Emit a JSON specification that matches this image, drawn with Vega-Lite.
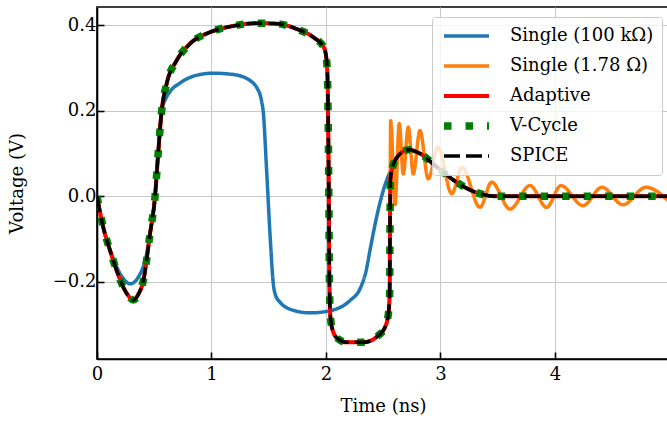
{
  "$schema": "https://vega.github.io/schema/vega-lite/v6.json",
  "width": 572,
  "height": 352,
  "autosize": {"type": "none"},
  "padding": {"left": 97, "top": 7, "right": 0, "bottom": 62},
  "background": "white",
  "config": {
    "view": {"stroke": "black", "strokeWidth": 1.6},
    "axis": {
      "labelFont": "DejaVu Serif", "labelFontSize": 18, "labelColor": "black", "labelFlush": false,
      "titleFont": "DejaVu Serif", "titleFontSize": 18, "titleFontWeight": "normal", "titleColor": "black",
      "domainColor": "black", "domainWidth": 1.6,
      "tickColor": "black", "tickWidth": 1.6, "tickSize": -7,
      "gridColor": "#c8c8c8", "gridWidth": 1
    },
    "legend": {
      "labelFont": "DejaVu Serif", "labelFontSize": 18, "labelColor": "black"
    }
  },
  "data": {"values": [
    {"s":"SPICE","t":0,"v":0},{"s":"SPICE","t":0.055,"v":-0.073},{"s":"SPICE","t":0.114,"v":-0.127},{"s":"SPICE","t":0.172,"v":-0.174},{"s":"SPICE","t":0.23,"v":-0.213},{"s":"SPICE","t":0.274,"v":-0.233},{"s":"SPICE","t":0.317,"v":-0.243},{"s":"SPICE","t":0.36,"v":-0.23},{"s":"SPICE","t":0.405,"v":-0.197},{"s":"SPICE","t":0.463,"v":-0.088},{"s":"SPICE","t":0.507,"v":0.0},{"s":"SPICE","t":0.536,"v":0.107},{"s":"SPICE","t":0.565,"v":0.2},{"s":"SPICE","t":0.608,"v":0.263},{"s":"SPICE","t":0.696,"v":0.318},{"s":"SPICE","t":0.812,"v":0.357},{"s":"SPICE","t":0.987,"v":0.384},{"s":"SPICE","t":1.16,"v":0.397},{"s":"SPICE","t":1.395,"v":0.405},{"s":"SPICE","t":1.57,"v":0.404},{"s":"SPICE","t":1.74,"v":0.392},{"s":"SPICE","t":1.89,"v":0.372},{"s":"SPICE","t":1.98,"v":0.349},{"s":"SPICE","t":2.0,"v":0.33},{"s":"SPICE","t":2.012,"v":0.29},{"s":"SPICE","t":2.018,"v":0.2},{"s":"SPICE","t":2.025,"v":0.0},{"s":"SPICE","t":2.03,"v":-0.2},{"s":"SPICE","t":2.038,"v":-0.28},{"s":"SPICE","t":2.06,"v":-0.315},{"s":"SPICE","t":2.1,"v":-0.333},{"s":"SPICE","t":2.18,"v":-0.342},{"s":"SPICE","t":2.326,"v":-0.342},{"s":"SPICE","t":2.457,"v":-0.326},{"s":"SPICE","t":2.515,"v":-0.307},{"s":"SPICE","t":2.545,"v":-0.275},{"s":"SPICE","t":2.556,"v":-0.229},{"s":"SPICE","t":2.559,"v":-0.088},{"s":"SPICE","t":2.562,"v":0.037},{"s":"SPICE","t":2.582,"v":0.068},{"s":"SPICE","t":2.632,"v":0.095},{"s":"SPICE","t":2.72,"v":0.109},{"s":"SPICE","t":2.82,"v":0.1},{"s":"SPICE","t":2.97,"v":0.068},{"s":"SPICE","t":3.14,"v":0.033},{"s":"SPICE","t":3.31,"v":0.009},{"s":"SPICE","t":3.49,"v":0.0},{"s":"SPICE","t":4.0,"v":0.0},{"s":"SPICE","t":4.996,"v":0.0},

    {"s":"V-Cycle","t":0,"v":0},{"s":"V-Cycle","t":0.055,"v":-0.073},{"s":"V-Cycle","t":0.114,"v":-0.127},{"s":"V-Cycle","t":0.172,"v":-0.174},{"s":"V-Cycle","t":0.23,"v":-0.213},{"s":"V-Cycle","t":0.274,"v":-0.233},{"s":"V-Cycle","t":0.317,"v":-0.243},{"s":"V-Cycle","t":0.36,"v":-0.23},{"s":"V-Cycle","t":0.405,"v":-0.197},{"s":"V-Cycle","t":0.463,"v":-0.088},{"s":"V-Cycle","t":0.507,"v":0.0},{"s":"V-Cycle","t":0.536,"v":0.107},{"s":"V-Cycle","t":0.565,"v":0.2},{"s":"V-Cycle","t":0.608,"v":0.263},{"s":"V-Cycle","t":0.696,"v":0.318},{"s":"V-Cycle","t":0.812,"v":0.357},{"s":"V-Cycle","t":0.987,"v":0.384},{"s":"V-Cycle","t":1.16,"v":0.397},{"s":"V-Cycle","t":1.395,"v":0.405},{"s":"V-Cycle","t":1.57,"v":0.404},{"s":"V-Cycle","t":1.74,"v":0.392},{"s":"V-Cycle","t":1.89,"v":0.372},{"s":"V-Cycle","t":1.98,"v":0.349},{"s":"V-Cycle","t":2.0,"v":0.33},{"s":"V-Cycle","t":2.012,"v":0.29},{"s":"V-Cycle","t":2.018,"v":0.2},{"s":"V-Cycle","t":2.025,"v":0.0},{"s":"V-Cycle","t":2.03,"v":-0.2},{"s":"V-Cycle","t":2.038,"v":-0.28},{"s":"V-Cycle","t":2.06,"v":-0.315},{"s":"V-Cycle","t":2.1,"v":-0.333},{"s":"V-Cycle","t":2.18,"v":-0.342},{"s":"V-Cycle","t":2.326,"v":-0.342},{"s":"V-Cycle","t":2.457,"v":-0.326},{"s":"V-Cycle","t":2.515,"v":-0.307},{"s":"V-Cycle","t":2.545,"v":-0.275},{"s":"V-Cycle","t":2.556,"v":-0.229},{"s":"V-Cycle","t":2.559,"v":-0.088},{"s":"V-Cycle","t":2.562,"v":0.037},{"s":"V-Cycle","t":2.582,"v":0.068},{"s":"V-Cycle","t":2.632,"v":0.095},{"s":"V-Cycle","t":2.72,"v":0.109},{"s":"V-Cycle","t":2.82,"v":0.1},{"s":"V-Cycle","t":2.97,"v":0.068},{"s":"V-Cycle","t":3.14,"v":0.033},{"s":"V-Cycle","t":3.31,"v":0.009},{"s":"V-Cycle","t":3.49,"v":0.0},{"s":"V-Cycle","t":4.0,"v":0.0},{"s":"V-Cycle","t":4.996,"v":0.0},

    {"s":"Adaptive","t":0,"v":0},{"s":"Adaptive","t":0.055,"v":-0.073},{"s":"Adaptive","t":0.114,"v":-0.127},{"s":"Adaptive","t":0.172,"v":-0.174},{"s":"Adaptive","t":0.23,"v":-0.213},{"s":"Adaptive","t":0.274,"v":-0.233},{"s":"Adaptive","t":0.317,"v":-0.243},{"s":"Adaptive","t":0.36,"v":-0.23},{"s":"Adaptive","t":0.405,"v":-0.197},{"s":"Adaptive","t":0.463,"v":-0.088},{"s":"Adaptive","t":0.507,"v":0.0},{"s":"Adaptive","t":0.536,"v":0.107},{"s":"Adaptive","t":0.565,"v":0.2},{"s":"Adaptive","t":0.608,"v":0.263},{"s":"Adaptive","t":0.696,"v":0.318},{"s":"Adaptive","t":0.812,"v":0.357},{"s":"Adaptive","t":0.987,"v":0.384},{"s":"Adaptive","t":1.16,"v":0.397},{"s":"Adaptive","t":1.395,"v":0.405},{"s":"Adaptive","t":1.57,"v":0.404},{"s":"Adaptive","t":1.74,"v":0.392},{"s":"Adaptive","t":1.89,"v":0.372},{"s":"Adaptive","t":1.98,"v":0.349},{"s":"Adaptive","t":2.0,"v":0.33},{"s":"Adaptive","t":2.012,"v":0.29},{"s":"Adaptive","t":2.018,"v":0.2},{"s":"Adaptive","t":2.025,"v":0.0},{"s":"Adaptive","t":2.03,"v":-0.2},{"s":"Adaptive","t":2.038,"v":-0.28},{"s":"Adaptive","t":2.06,"v":-0.315},{"s":"Adaptive","t":2.1,"v":-0.333},{"s":"Adaptive","t":2.18,"v":-0.342},{"s":"Adaptive","t":2.326,"v":-0.342},{"s":"Adaptive","t":2.457,"v":-0.326},{"s":"Adaptive","t":2.515,"v":-0.307},{"s":"Adaptive","t":2.545,"v":-0.275},{"s":"Adaptive","t":2.556,"v":-0.229},{"s":"Adaptive","t":2.559,"v":-0.088},{"s":"Adaptive","t":2.562,"v":0.037},{"s":"Adaptive","t":2.582,"v":0.068},{"s":"Adaptive","t":2.632,"v":0.095},{"s":"Adaptive","t":2.72,"v":0.109},{"s":"Adaptive","t":2.82,"v":0.1},{"s":"Adaptive","t":2.97,"v":0.068},{"s":"Adaptive","t":3.14,"v":0.033},{"s":"Adaptive","t":3.31,"v":0.009},{"s":"Adaptive","t":3.49,"v":0.0},{"s":"Adaptive","t":4.0,"v":0.0},{"s":"Adaptive","t":4.996,"v":0.0},

    {"s":"Single (100 kΩ)","t":0,"v":0},{"s":"Single (100 kΩ)","t":0.055,"v":-0.073},{"s":"Single (100 kΩ)","t":0.114,"v":-0.125},{"s":"Single (100 kΩ)","t":0.172,"v":-0.165},{"s":"Single (100 kΩ)","t":0.21,"v":-0.185},{"s":"Single (100 kΩ)","t":0.25,"v":-0.199},{"s":"Single (100 kΩ)","t":0.29,"v":-0.205},{"s":"Single (100 kΩ)","t":0.33,"v":-0.2},{"s":"Single (100 kΩ)","t":0.37,"v":-0.185},{"s":"Single (100 kΩ)","t":0.4,"v":-0.168},{"s":"Single (100 kΩ)","t":0.43,"v":-0.14},{"s":"Single (100 kΩ)","t":0.463,"v":-0.088},{"s":"Single (100 kΩ)","t":0.507,"v":0.0},{"s":"Single (100 kΩ)","t":0.536,"v":0.107},{"s":"Single (100 kΩ)","t":0.565,"v":0.2},{"s":"Single (100 kΩ)","t":0.6,"v":0.228},{"s":"Single (100 kΩ)","t":0.638,"v":0.245},{"s":"Single (100 kΩ)","t":0.725,"v":0.265},{"s":"Single (100 kΩ)","t":0.841,"v":0.281},{"s":"Single (100 kΩ)","t":1.016,"v":0.288},{"s":"Single (100 kΩ)","t":1.19,"v":0.285},{"s":"Single (100 kΩ)","t":1.336,"v":0.271},{"s":"Single (100 kΩ)","t":1.4,"v":0.252},{"s":"Single (100 kΩ)","t":1.424,"v":0.238},{"s":"Single (100 kΩ)","t":1.438,"v":0.222},{"s":"Single (100 kΩ)","t":1.453,"v":0.195},{"s":"Single (100 kΩ)","t":1.48,"v":0.068},{"s":"Single (100 kΩ)","t":1.511,"v":-0.088},{"s":"Single (100 kΩ)","t":1.54,"v":-0.205},{"s":"Single (100 kΩ)","t":1.56,"v":-0.232},{"s":"Single (100 kΩ)","t":1.598,"v":-0.248},{"s":"Single (100 kΩ)","t":1.715,"v":-0.267},{"s":"Single (100 kΩ)","t":1.86,"v":-0.273},{"s":"Single (100 kΩ)","t":2.035,"v":-0.268},{"s":"Single (100 kΩ)","t":2.21,"v":-0.244},{"s":"Single (100 kΩ)","t":2.3,"v":-0.215},{"s":"Single (100 kΩ)","t":2.35,"v":-0.175},{"s":"Single (100 kΩ)","t":2.384,"v":-0.127},{"s":"Single (100 kΩ)","t":2.442,"v":-0.049},{"s":"Single (100 kΩ)","t":2.5,"v":0.013},{"s":"Single (100 kΩ)","t":2.545,"v":0.048},{"s":"Single (100 kΩ)","t":2.582,"v":0.068},{"s":"Single (100 kΩ)","t":2.632,"v":0.095},{"s":"Single (100 kΩ)","t":2.72,"v":0.109},{"s":"Single (100 kΩ)","t":2.82,"v":0.1},{"s":"Single (100 kΩ)","t":2.97,"v":0.068},{"s":"Single (100 kΩ)","t":3.14,"v":0.033},{"s":"Single (100 kΩ)","t":3.31,"v":0.009},{"s":"Single (100 kΩ)","t":3.49,"v":0.0},{"s":"Single (100 kΩ)","t":4.0,"v":0.0},{"s":"Single (100 kΩ)","t":4.996,"v":0.0},

    {"s":"Single (1.78 Ω)","t":0,"v":0},{"s":"Single (1.78 Ω)","t":0.055,"v":-0.073},{"s":"Single (1.78 Ω)","t":0.114,"v":-0.127},{"s":"Single (1.78 Ω)","t":0.172,"v":-0.174},{"s":"Single (1.78 Ω)","t":0.23,"v":-0.213},{"s":"Single (1.78 Ω)","t":0.274,"v":-0.233},{"s":"Single (1.78 Ω)","t":0.317,"v":-0.243},{"s":"Single (1.78 Ω)","t":0.36,"v":-0.23},{"s":"Single (1.78 Ω)","t":0.405,"v":-0.197},{"s":"Single (1.78 Ω)","t":0.463,"v":-0.088},{"s":"Single (1.78 Ω)","t":0.507,"v":0.0},{"s":"Single (1.78 Ω)","t":0.536,"v":0.107},{"s":"Single (1.78 Ω)","t":0.565,"v":0.2},{"s":"Single (1.78 Ω)","t":0.608,"v":0.263},{"s":"Single (1.78 Ω)","t":0.696,"v":0.318},{"s":"Single (1.78 Ω)","t":0.812,"v":0.357},{"s":"Single (1.78 Ω)","t":0.987,"v":0.384},{"s":"Single (1.78 Ω)","t":1.16,"v":0.397},{"s":"Single (1.78 Ω)","t":1.395,"v":0.405},{"s":"Single (1.78 Ω)","t":1.57,"v":0.404},{"s":"Single (1.78 Ω)","t":1.74,"v":0.392},{"s":"Single (1.78 Ω)","t":1.89,"v":0.372},{"s":"Single (1.78 Ω)","t":1.98,"v":0.349},{"s":"Single (1.78 Ω)","t":2.0,"v":0.33},{"s":"Single (1.78 Ω)","t":2.012,"v":0.29},{"s":"Single (1.78 Ω)","t":2.018,"v":0.2},{"s":"Single (1.78 Ω)","t":2.025,"v":0.0},{"s":"Single (1.78 Ω)","t":2.03,"v":-0.2},{"s":"Single (1.78 Ω)","t":2.038,"v":-0.28},{"s":"Single (1.78 Ω)","t":2.06,"v":-0.315},{"s":"Single (1.78 Ω)","t":2.1,"v":-0.333},{"s":"Single (1.78 Ω)","t":2.18,"v":-0.342},{"s":"Single (1.78 Ω)","t":2.326,"v":-0.342},{"s":"Single (1.78 Ω)","t":2.457,"v":-0.326},{"s":"Single (1.78 Ω)","t":2.515,"v":-0.307},{"s":"Single (1.78 Ω)","t":2.545,"v":-0.275},{"s":"Single (1.78 Ω)","t":2.556,"v":-0.229},{"s":"Single (1.78 Ω)","t":2.565,"v":0.177},{"s":"Single (1.78 Ω)","t":2.603,"v":-0.02},{"s":"Single (1.78 Ω)","t":2.64,"v":0.17},{"s":"Single (1.78 Ω)","t":2.675,"v":0.052},{"s":"Single (1.78 Ω)","t":2.719,"v":0.162},{"s":"Single (1.78 Ω)","t":2.762,"v":0.052},{"s":"Single (1.78 Ω)","t":2.821,"v":0.154},{"s":"Single (1.78 Ω)","t":2.893,"v":0.041},{"s":"Single (1.78 Ω)","t":2.978,"v":0.115},{"s":"Single (1.78 Ω)","t":3.098,"v":0.006},{"s":"Single (1.78 Ω)","t":3.188,"v":0.068},{"s":"Single (1.78 Ω)","t":3.345,"v":-0.026},{"s":"Single (1.78 Ω)","t":3.447,"v":0.033},{"s":"Single (1.78 Ω)","t":3.607,"v":-0.03},{"s":"Single (1.78 Ω)","t":3.782,"v":0.025},{"s":"Single (1.78 Ω)","t":3.927,"v":-0.026},{"s":"Single (1.78 Ω)","t":4.052,"v":0.025},{"s":"Single (1.78 Ω)","t":4.245,"v":-0.022},{"s":"Single (1.78 Ω)","t":4.41,"v":0.021},{"s":"Single (1.78 Ω)","t":4.594,"v":-0.02},{"s":"Single (1.78 Ω)","t":4.795,"v":0.021},{"s":"Single (1.78 Ω)","t":4.996,"v":-0.012}
  ]},
  "encoding": {
    "x": {"field": "t", "type": "quantitative",
      "scale": {"domain": [0, 4.996], "nice": false, "zero": false},
      "axis": {"values": [0, 1, 2, 3, 4], "format": "d", "title": "Time (ns)", "labelPadding": 13, "titlePadding": 14, "grid": true}},
    "y": {"field": "v", "type": "quantitative",
      "scale": {"domain": [-0.381, 0.443], "nice": false, "zero": false},
      "axis": {"values": [-0.2, 0, 0.2, 0.4], "format": ".1f", "title": "Voltage (V)", "labelPadding": 8, "titlePadding": 26, "grid": true}},
    "color": {"field": "s", "type": "nominal",
      "scale": {"domain": ["Single (100 kΩ)", "Single (1.78 Ω)", "Adaptive", "V-Cycle", "SPICE"],
                "range": ["#1f77b4", "#ff7f0e", "#ff0000", "#008000", "#000000"]},
      "legend": {"orient": "none", "legendX": 335, "legendY": 10, "title": null,
        "symbolType": "stroke", "symbolSize": 2025, "labelOffset": 17, "padding": 8,
        "rowPadding": 8, "clipHeight": 22, "fillColor": "rgba(255,255,255,0.8)",
        "strokeColor": "#cccccc", "cornerRadius": 3}},
    "strokeDash": {"field": "s", "type": "nominal",
      "scale": {"domain": ["Single (100 kΩ)", "Single (1.78 Ω)", "Adaptive", "V-Cycle", "SPICE"],
                "range": [[1, 0], [1, 0], [1, 0], [7.5, 14], [16, 6]]}},
    "strokeWidth": {"field": "s", "type": "nominal",
      "scale": {"type": "ordinal", "domain": ["Single (100 kΩ)", "Single (1.78 Ω)", "Adaptive", "V-Cycle", "SPICE"],
                "range": [3.5, 3.5, 4, 7.5, 3.5]}}
  },
  "layer": [
    {"transform": [{"filter": {"field": "s", "equal": "Single (100 kΩ)"}}], "mark": {"type": "line", "interpolate": "monotone", "clip": true}},
    {"transform": [{"filter": {"field": "s", "equal": "Single (1.78 Ω)"}}], "mark": {"type": "line", "interpolate": "monotone", "clip": true}},
    {"transform": [{"filter": {"field": "s", "equal": "Adaptive"}}], "mark": {"type": "line", "interpolate": "monotone", "clip": true}},
    {"transform": [{"filter": {"field": "s", "equal": "V-Cycle"}}], "mark": {"type": "line", "interpolate": "monotone", "clip": true}},
    {"transform": [{"filter": {"field": "s", "equal": "SPICE"}}], "mark": {"type": "line", "interpolate": "monotone", "clip": true}}
  ]
}
